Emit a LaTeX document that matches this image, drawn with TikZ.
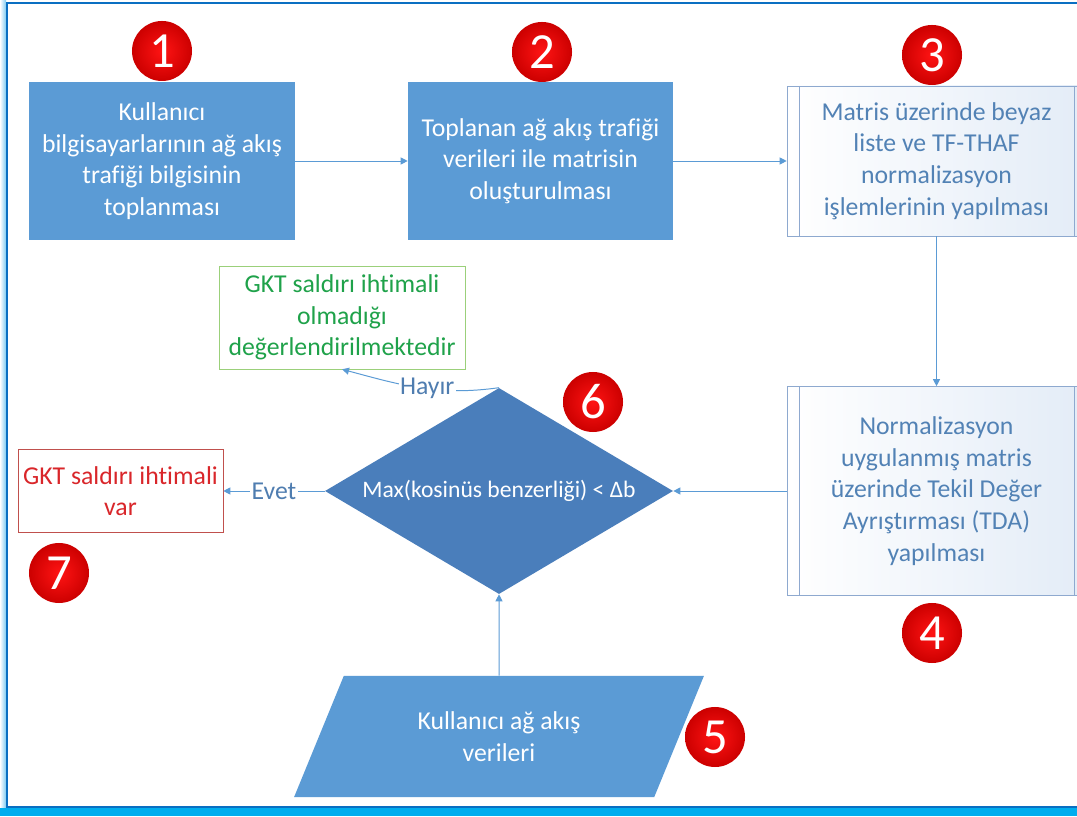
\documentclass[tikz,border=0pt]{standalone}
\usepackage{fontspec}
\setmainfont{Carlito}[Ligatures=NoCommon]
\usetikzlibrary{positioning, arrows.meta, shapes.geometric}
\definecolor{boxblue}{HTML}{5B9BD5}
\definecolor{diablue}{HTML}{4A7EBB}
\definecolor{subline}{HTML}{8EA9CF}
\definecolor{subtext}{HTML}{5282B5}
\definecolor{subfill}{HTML}{E3ECF7}
\definecolor{connblue}{HTML}{5B9BD5}
\definecolor{lblblue}{HTML}{4F7DB0}
\definecolor{attackred}{HTML}{D9262A}
\definecolor{attackline}{HTML}{C0504D}
\definecolor{safegreen}{HTML}{1FA24A}
\definecolor{safeline}{HTML}{9BD07A}
\definecolor{numred}{HTML}{FF1414}
\definecolor{numdark}{HTML}{CC0000}
\definecolor{framedark}{HTML}{0A6FC2}
\definecolor{bandcyan}{HTML}{00ADEE}
\definecolor{glowblue}{HTML}{7FCBF2}

\begin{document}
\begin{tikzpicture}[x=0.025cm, y=0.025cm,
  font=\fontsize{18.3}{22.5}\selectfont,
  procbox/.style={fill=boxblue, text=white, align=center,
    minimum width=6.65cm, minimum height=3.925cm, inner sep=2pt},
  subbox/.style={draw=subline, left color=white, right color=subfill,
    text=subtext, align=center, minimum width=7.475cm, inner sep=2pt,
    path picture={
      \draw[subline] ([xshift=0.3cm]path picture bounding box.north west)
        -- ([xshift=0.3cm]path picture bounding box.south west);
      \draw[subline] ([xshift=-0.3cm]path picture bounding box.north east)
        -- ([xshift=-0.3cm]path picture bounding box.south east);}},
  decision/.style={diamond, fill=diablue, text=white, inner sep=0pt,
    shape aspect=1.69, minimum width=8.7cm, minimum height=5.15cm,
    font=\fontsize{16.8}{20}\selectfont},
  inputbox/.style={trapezium, trapezium left angle=65, trapezium right angle=115,
    trapezium stretches=true, fill=boxblue, text=white, align=center,
    minimum width=10.25cm, minimum height=3.025cm},
  resultbox/.style={fill=white, align=center, inner sep=2pt},
  numdot/.style={circle, shading=radial, inner color=numred, outer color=numdark,
    text=white, minimum size=1.5cm, inner sep=0pt,
    font=\fontsize{36}{36}\selectfont},
  conn/.style={connblue, line width=0.7pt, -{Triangle[length=5pt, width=5pt]}},
  lbl/.style={fill=white, text=lblblue, inner sep=1pt}]

  \useasboundingbox (0,0) rectangle (1077,816);

  % Frame
  \fill[white] (0,0) rectangle (1077,816);
  \shade[left color=white, right color=glowblue] (0,8) rectangle (6,816);
  \fill[bandcyan] (0,0) rectangle (1077,8);
  \draw[framedark, line width=1.4pt] (1077,9) -- (7,9) -- (7,813) -- (1077,813);

  % Top row
  \node[procbox] (collect) at (162,655)
    {Kullanıcı\\bilgisayarlarının ağ akış\\trafiği bilgisinin\\toplanması};
  \node[procbox, minimum width=6.625cm] (buildmat) at (540.5,655)
    {Toplanan ağ akış trafiği\\verileri ile matrisin\\oluşturulması};
  \node[subbox, minimum height=3.75cm] (whitelist) at (936.5,655)
    {Matris üzerinde beyaz\\liste ve TF-THAF\\normalizasyon\\işlemlerinin yapılması};

  % Middle row
  \node[subbox, minimum height=5.225cm] (svd) at (936.5,325)
    {Normalizasyon\\uygulanmış matris\\üzerinde Tekil Değer\\Ayrıştırması (TDA)\\yapılması};
  \node[decision] (check) at (499,325) {Max(kosinüs benzerliği) < Δb};
  \node[resultbox, draw=attackline, text=attackred,
    minimum width=5.125cm, minimum height=2.075cm] (attack) at (120.5,325)
    {GKT saldırı ihtimali\\var};
  \node[resultbox, draw=safeline, text=safegreen,
    minimum width=6.15cm, minimum height=2.575cm] (noattack) at (342,498.5)
    {GKT saldırı ihtimali\\olmadığı\\değerlendirilmektedir};

  % Input data
  \node[inputbox] (userdata) at (499,79.5) {Kullanıcı ağ akış\\verileri};

  % Connectors
  \draw[conn] (collect) -- (buildmat);
  \draw[conn] (buildmat) -- (whitelist);
  \draw[conn] (whitelist) -- (svd);
  \draw[conn] (svd) -- (check);
  \draw[conn] (userdata) -- (check);
  \draw[conn] (check) -- node[lbl] {Evet} (attack);
  \draw[conn] (check.north) to[out=188, in=-15]
    node[lbl, pos=0.45] {Hayır} (noattack.south);

  % Step numbers
  \foreach \n/\cx/\cy in {1/162/765, 2/542/764, 3/932/761, 4/932/183,
                          5/715/79, 6/593/414, 7/59/243}
    \node[numdot] (num\n) at (\cx,\cy) {\n};
\end{tikzpicture}
\end{document}
